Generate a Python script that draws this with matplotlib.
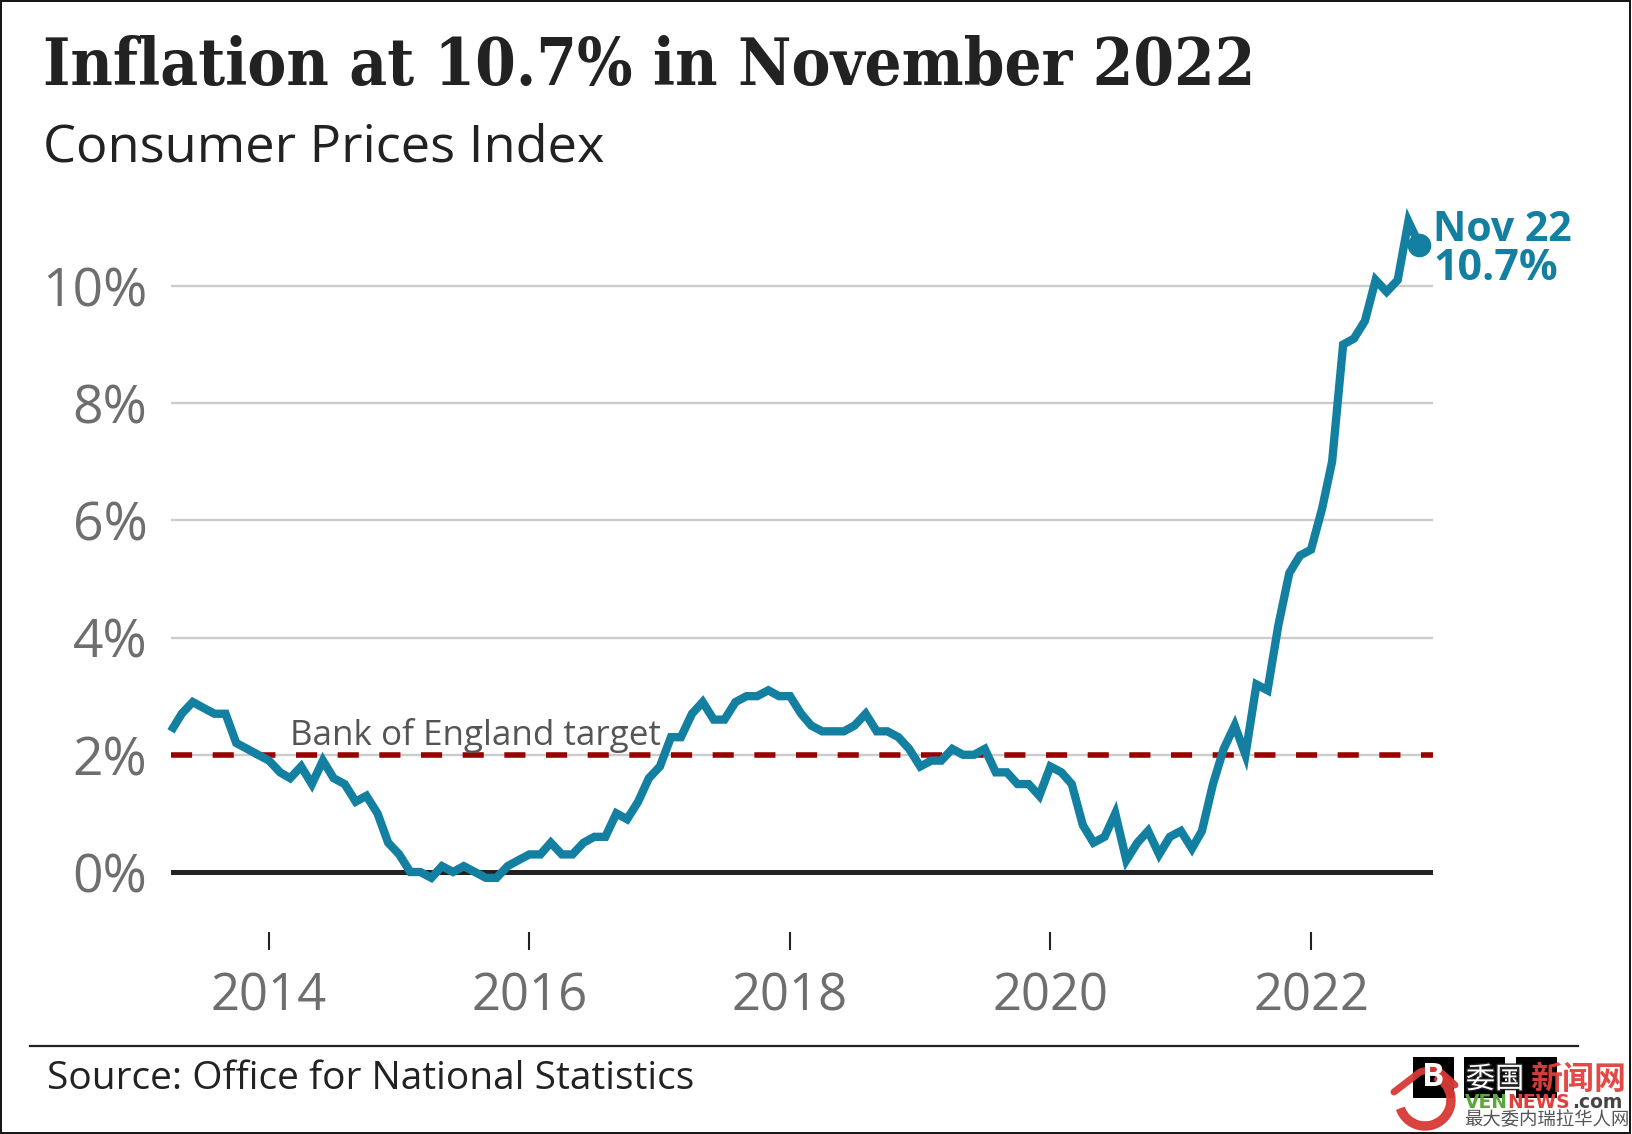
import matplotlib
matplotlib.use("Agg")
import matplotlib.pyplot as plt
import matplotlib.patheffects as pe
from matplotlib.patches import Rectangle, Wedge
import pandas as pd

W, H = 1632, 1134
TEAL = "#1380A1"
GREY = "#6e6e6e"
RED = "#e0403c"
CJK = ["Noto Sans CJK SC", "DejaVu Sans"]

plt.rcParams["font.family"] = "Open Sans"

months = pd.date_range("2013-04-01", "2022-11-01", freq="MS")
cpi = [
    2.4, 2.7, 2.9, 2.8, 2.7, 2.7, 2.2, 2.1, 2.0,
    1.9, 1.7, 1.6, 1.8, 1.5, 1.9, 1.6, 1.5, 1.2, 1.3, 1.0, 0.5, 0.3,
    0.0, 0.0, -0.1, 0.1, 0.0, 0.1, 0.0, -0.1, -0.1, 0.1, 0.2, 0.3,
    0.3, 0.5, 0.3, 0.3, 0.5, 0.6, 0.6, 1.0, 0.9, 1.2, 1.6, 1.8,
    2.3, 2.3, 2.7, 2.9, 2.6, 2.6, 2.9, 3.0, 3.0, 3.1, 3.0, 3.0,
    2.7, 2.5, 2.4, 2.4, 2.4, 2.5, 2.7, 2.4, 2.4, 2.3, 2.1, 1.8,
    1.9, 1.9, 2.1, 2.0, 2.0, 2.1, 1.7, 1.7, 1.5, 1.5, 1.3, 1.8,
    1.7, 1.5, 0.8, 0.5, 0.6, 1.0, 0.2, 0.5, 0.7, 0.3, 0.6, 0.7,
    0.4, 0.7, 1.5, 2.1, 2.5, 2.0, 3.2, 3.1, 4.2, 5.1, 5.4, 5.5,
    6.2, 7.0, 9.0, 9.1, 9.4, 10.1, 9.9, 10.1, 11.1, 10.7,
]
target = 2
y_ticks = [0, 2, 4, 6, 8, 10]
y_labels = ["0%", "2%", "4%", "6%", "8%", "10%"]
x_years = ["2014", "2016", "2018", "2020", "2022"]


def fx(px):
    return px / W


def fy(py):
    return 1 - py / H


fig = plt.figure(figsize=(W / 100, H / 100), dpi=100, facecolor="white")

# plot area, from the pixel positions of the gridlines
ax = fig.add_axes([fx(171), fy(932), fx(1433 - 171), (932 - 198) / H])
ax.set_xlim(pd.Timestamp("2013-04-01"), pd.Timestamp("2022-12-09"))
ax.set_ylim(-1.024, 11.5)
for s in ax.spines.values():
    s.set_visible(False)
ax.patch.set_alpha(0)

for v in y_ticks[1:]:
    ax.axhline(v, color="#cccccc", lw=1.7, zorder=1)
ax.axhline(0, color="#222222", lw=3.6, zorder=2)
ax.axhline(target, color="#990000", lw=4, ls=(0, (3.8, 3.7)), zorder=3)

ax.plot(months, cpi, color=TEAL, lw=6, solid_joinstyle="miter", solid_capstyle="butt",
        zorder=4, clip_on=False)
ax.plot(months[-1:], cpi[-1:], "o", color=TEAL, ms=17, mew=0, zorder=5, clip_on=False)

ax.set_yticks(y_ticks)
ax.set_yticklabels(y_labels)
ax.tick_params(axis="y", length=0, pad=17, labelsize=38.5, labelcolor=GREY)
ax.set_xticks([pd.Timestamp(y + "-01-01") for y in x_years])
ax.set_xticklabels(x_years)
ax.tick_params(axis="x", length=13, width=1.5, color="#222222", pad=15.5, labelsize=36.5,
               labelcolor=GREY)

ax.text(pd.Timestamp("2014-03-01"), 2.16, "Bank of England target", fontsize=25.2,
        color="#555555", ha="left", va="baseline")

ax.annotate(months[-1].strftime("%b %y"), (months[-1], cpi[-1]), xytext=(10, 3),
            textcoords="offset points", fontsize=29.5, fontweight="bold", color=TEAL,
            ha="left", va="baseline", annotation_clip=False)
ax.annotate("%.1f%%" % cpi[-1], (months[-1], cpi[-1]), xytext=(10, -25),
            textcoords="offset points", fontsize=31, fontweight="bold", color=TEAL,
            ha="left", va="baseline", annotation_clip=False)

# heading and footer
fig.text(fx(43), fy(85), "Inflation at 10.7% in November 2022", fontsize=46.8,
         family="DejaVu Serif", stretch="condensed", fontweight="bold", color="#222222",
         va="baseline")
fig.text(fx(43), fy(161), "Consumer Prices Index", fontsize=37.7, color="#222222", va="baseline")
fig.text(fx(47), fy(1089), "Source: Office for National Statistics", fontsize=28,
         color="#222222", va="baseline")
fig.add_artist(plt.Line2D([fx(30), fx(1578)], [fy(1046), fy(1046)], color="#222222", lw=1.6))

# BBC blocks, the watermark covers most of the last two
for x0 in [1413, 1464, 1516]:
    fig.add_artist(Rectangle((fx(x0), fy(1098)), fx(41), 41 / H, color="black", lw=0))
fig.text(fx(1433), fy(1078), "B", fontsize=24, fontweight="bold", color="white",
         ha="center", va="center")

# watermark
fig.add_artist(Wedge((14.25, 11.34 - 11.0), 0.30, -160, 65, width=0.08, color="#d83a36",
                     transform=fig.dpi_scale_trans, alpha=0.95))
fig.add_artist(plt.Line2D([fx(1394), fx(1420), fx(1436), fx(1455)],
                          [fy(1092), fy(1072), fy(1068), fy(1085)],
                          color="#d83a36", lw=5, alpha=0.95, solid_capstyle="round"))
fig.text(fx(1495), fy(1080), "委国", fontsize=21, family=CJK, color="white", ha="center",
         va="center", path_effects=[pe.withStroke(linewidth=2, foreground="#222222")])
fig.text(fx(1578), fy(1080), "新闻网", fontsize=23, family=CJK, fontweight="bold",
         color=RED, ha="center", va="center", alpha=0.95)
fig.text(fx(1465), fy(1108), "VEN", family="DejaVu Sans", fontsize=13.5, fontweight="bold",
         color="#5aa83c", va="baseline")
fig.text(fx(1507), fy(1108), "NEWS", family="DejaVu Sans", fontsize=13.5, fontweight="bold",
         color=RED, va="baseline")
fig.text(fx(1572), fy(1108), ".com", family="DejaVu Sans", fontsize=13.5, fontweight="bold",
         color="#444444", va="baseline")
fig.text(fx(1464), fy(1125), "最大委内瑞拉华人网", fontsize=13.2, family=CJK, color="#555555",
         va="baseline")

# frame round the picture
fig.add_artist(Rectangle((0.0005, 0.0012), 0.9985, 0.9975, fill=False, ec="#111111", lw=1.4))

fig.savefig("out.png", dpi=100, facecolor="white")
